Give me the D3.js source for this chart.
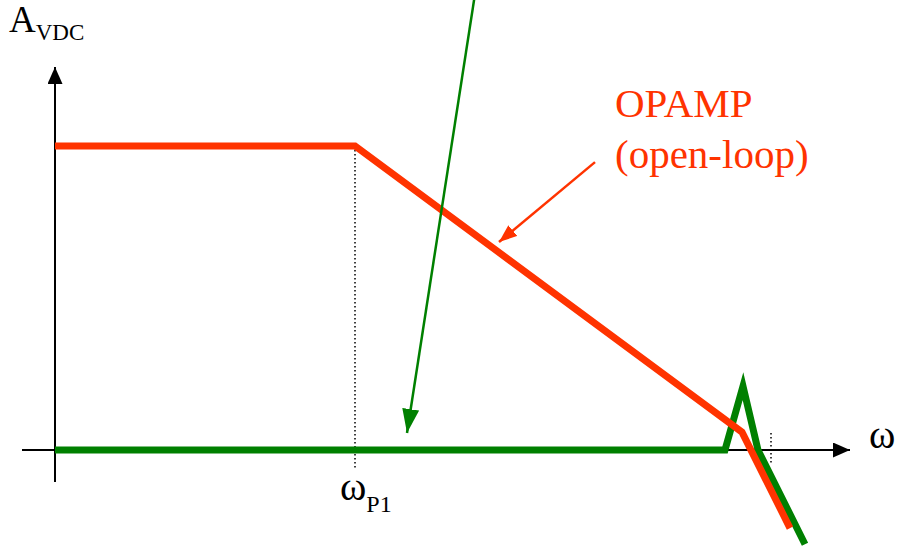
<!DOCTYPE html>
<html>
<head>
<meta charset="utf-8">
<script src="https://cdn.jsdelivr.net/npm/d3@7"></script>
<style>
  html, body { margin: 0; padding: 0; background: #fff; }
  svg { display: block; }
  text { font-family: 'Liberation Serif', 'Times New Roman', 'DejaVu Serif', serif; }
</style>
</head>
<body>
<div id="chart"></div>
<script>
// Bode magnitude sketch: x = log(omega) units, y = gain units
const opampPoints = [[0, 100], [3, 100], [6.87, 5.9], [7.35, -25.7]];
const closedPoints = [[0, 0], [6.70, 0], [6.88, 21], [7.03, 0], [7.50, -31]];
const poleMarks = [{ x: 3, yTop: 100, yBottom: -6 }, { x: 7.16, yTop: 5.6, yBottom: -4.3 }];
const greenArrow = [[4.2, 150], [3.52, 5.6]];
const redArrow = [[5.40, 94.7], [4.44, 68.4]];
const labelLines = ['OPAMP', '(open-loop)'];

const W = 899, H = 547;
const red = '#ff3300';
const green = '#008000';

const x = d3.scaleLinear().domain([0, 8]).range([55, 855]);
const y = d3.scaleLinear().domain([0, 100]).range([450, 146]);

const svg = d3.select('#chart').append('svg')
  .attr('width', W)
  .attr('height', H);

const defs = svg.append('defs');
function arrowMarker(id, color, len, wid) {
  defs.append('marker')
    .attr('id', id)
    .attr('markerUnits', 'userSpaceOnUse')
    .attr('viewBox', `0 0 ${len} ${wid}`)
    .attr('refX', len)
    .attr('refY', wid / 2)
    .attr('markerWidth', len)
    .attr('markerHeight', wid)
    .attr('orient', 'auto')
    .append('path')
    .attr('d', `M0,0L${len},${wid / 2}L0,${wid}Z`)
    .attr('fill', color);
}
arrowMarker('ax-arrow', '#000', 17, 15);
arrowMarker('green-arrow', green, 24, 17);
arrowMarker('red-arrow', red, 18, 14);

// Axes
svg.append('line')
  .attr('x1', 22).attr('x2', x(7.95))
  .attr('y1', y(0)).attr('y2', y(0))
  .attr('stroke', '#000').attr('stroke-width', 2)
  .attr('marker-end', 'url(#ax-arrow)');

svg.append('line')
  .attr('x1', x(0)).attr('x2', x(0))
  .attr('y1', 482).attr('y2', 67)
  .attr('stroke', '#000').attr('stroke-width', 2)
  .attr('marker-end', 'url(#ax-arrow)');

// Dotted pole markers
for (const p of poleMarks) {
  svg.append('line')
    .attr('x1', x(p.x)).attr('x2', x(p.x))
    .attr('y1', y(p.yTop)).attr('y2', y(p.yBottom))
    .attr('stroke', '#000').attr('stroke-width', 1.5)
    .attr('stroke-dasharray', '1.5,2.5');
}

const line = d3.line().x(d => x(d[0])).y(d => y(d[1]));

svg.append('path')
  .datum(closedPoints)
  .attr('d', line)
  .attr('fill', 'none')
  .attr('stroke', green)
  .attr('stroke-width', 7);

svg.append('path')
  .datum(opampPoints)
  .attr('d', line)
  .attr('fill', 'none')
  .attr('stroke', red)
  .attr('stroke-width', 7);

// Annotation arrows
svg.append('path')
  .datum(greenArrow)
  .attr('d', line)
  .attr('stroke', green).attr('stroke-width', 2.5)
  .attr('marker-end', 'url(#green-arrow)');

svg.append('path')
  .datum(redArrow)
  .attr('d', line)
  .attr('stroke', red).attr('stroke-width', 2.5)
  .attr('marker-end', 'url(#red-arrow)');

// Labels
svg.selectAll('text.lab')
  .data(labelLines)
  .join('text')
  .attr('class', 'lab')
  .attr('x', 615)
  .attr('y', (d, i) => 117 + i * 51)
  .attr('fill', red)
  .attr('font-size', 41)
  .text(d => d);

const yLab = svg.append('text').attr('x', 9).attr('y', 32).attr('font-size', 37);
yLab.append('tspan').text('A');
yLab.append('tspan').attr('font-size', 23).attr('dy', 8).text('VDC');

svg.append('text')
  .attr('x', 869).attr('y', 448)
  .attr('font-size', 40)
  .text('ω');

const pLab = svg.append('text').attr('x', 340).attr('y', 500).attr('font-size', 40);
pLab.append('tspan').text('ω');
pLab.append('tspan').attr('font-size', 24).attr('dy', 12).text('P1');
</script>
</body>
</html>
